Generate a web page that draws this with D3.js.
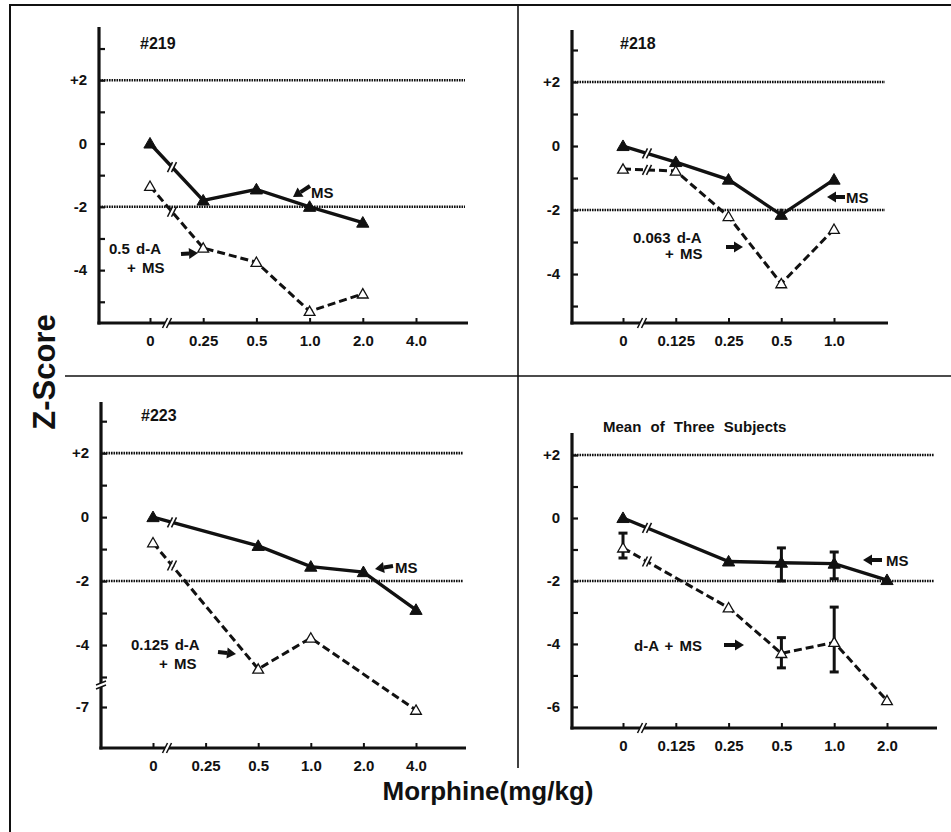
<!DOCTYPE html>
<html>
<head>
<meta charset="utf-8">
<script src="https://cdn.jsdelivr.net/npm/d3@7"></script>
<style>
  body { margin: 0; background: #fff; }
  svg text { font-family: "Liberation Sans", Arial, sans-serif; font-weight: bold; fill: #111; }
</style>
</head>
<body>
<svg id="chart" width="951" height="832"></svg>
<script>
// ---- data ----
const doses219 = ["0", "0.25", "0.5", "1.0", "2.0", "4.0"];
const ms219X = ["0", "0.25", "0.5", "1.0", "2.0"];
const ms219 = [0, -1.8, -1.45, -2.0, -2.5];
const da219X = ["0", "0.25", "0.5", "1.0", "2.0"];
const da219 = [-1.35, -3.3, -3.75, -5.3, -4.75];

const doses218 = ["0", "0.125", "0.25", "0.5", "1.0"];
const ms218X = ["0", "0.125", "0.25", "0.5", "1.0"];
const ms218 = [0, -0.5, -1.05, -2.15, -1.05];
const da218X = ["0", "0.125", "0.25", "0.5", "1.0"];
const da218 = [-0.72, -0.78, -2.2, -4.3, -2.6];

const doses223 = ["0", "0.25", "0.5", "1.0", "2.0", "4.0"];
const ms223X = ["0", "0.5", "1.0", "2.0", "4.0"];
const ms223 = [0, -0.9, -1.55, -1.72, -2.9];
const da223X = ["0", "0.5", "1.0", "4.0"];
const da223 = [-0.8, -4.75, -3.78, -7.1];

const dosesMean = ["0", "0.125", "0.25", "0.5", "1.0", "2.0"];
const msMeanX = ["0", "0.25", "0.5", "1.0", "2.0"];
const msMean = [0, -1.38, -1.42, -1.45, -1.97];
const msMeanErr = [null, null, [-0.95, -2.0], [-1.08, -1.93], null];
const daMeanX = ["0", "0.25", "0.5", "1.0", "2.0"];
const daMean = [-0.95, -2.85, -4.3, -3.95, -5.8];
const daMeanErr = [[-0.48, -1.27], null, [-3.8, -4.76], [-2.83, -4.89], null];

// ---- layout ----
const svg = d3.select("#chart");

const panels = [
  { title: "#219", tx: 140, ty: 49, ax: 99, top: 27, bottom: 323, right: 468, xr: [150, 416],
    yd: [3.68, -5.67], yr: [27, 323], doses: doses219,
    yTicks: [3, 2, 1, 0, -1, -2, -3, -4, -5], yLabels: [2, 0, -2, -4], brk: 167,
    ms: [ms219X, ms219], da: [da219X, da219],
    msNote: { t: [311, 198], a: [310, 186, 293, 197] },
    daNote: { lines: [["0.5 d-A", 109, 254], ["+ MS", 127, 273]], a: [181, 254, 198, 253] } },
  { title: "#218", tx: 620, ty: 49, ax: 572, top: 30, bottom: 323, right: 888, xr: [623, 834],
    yd: [3.625, -5.53], yr: [30, 323], doses: doses218,
    yTicks: [3, 2, 1, 0, -1, -2, -3, -4, -5], yLabels: [2, 0, -2, -4], brk: 642,
    ms: [ms218X, ms218], da: [da218X, da218],
    msNote: { t: [846, 203], a: [845, 197, 827, 197] },
    daNote: { lines: [["0.063 d-A", 633, 243], ["+ MS", 665, 259]], a: [726, 247, 743, 247] } },
  { title: "#223", tx: 141, ty: 421, ax: 101, top: 402, bottom: 748, right: 466, xr: [153, 416],
    yd: [3.6, -5, -7, -8.3], yr: [402, 677, 707, 748], doses: doses223,
    yTicks: [3, 2, 1, 0, -1, -2, -3, -4, -5, -7], yLabels: [2, 0, -2, -4, -7], brk: 167, yBrk: 685,
    ms: [ms223X, ms223], da: [da223X, da223],
    msNote: { t: [395, 573], a: [393, 566, 375, 569] },
    daNote: { lines: [["0.125 d-A", 131, 650], ["+ MS", 159, 669]], a: [218, 652, 236, 654] } },
  { title: "Mean of Three Subjects", tx: 603, ty: 432, ax: 572, top: 433, bottom: 728, right: 937, xr: [623, 887],
    yd: [2.7, -6.67], yr: [433, 728], doses: dosesMean, small: true,
    yTicks: [2, 1, 0, -1, -2, -3, -4, -5, -6], yLabels: [2, 0, -2, -4, -6], brk: 642,
    ms: [msMeanX, msMean, msMeanErr], da: [daMeanX, daMean, daMeanErr],
    msNote: { t: [886, 566], a: [882, 560, 863, 560] },
    daNote: { lines: [["d-A + MS", 634, 651]], a: [724, 645, 744, 645] } }
];

// ---- frame ----
const frame = svg.append("g").attr("stroke", "#111").attr("fill", "none");
frame.append("line").attr("x1", 9).attr("x2", 951).attr("y1", 5).attr("y2", 5).attr("stroke-width", 2);
frame.append("line").attr("x1", 10).attr("x2", 10).attr("y1", 5).attr("y2", 832).attr("stroke-width", 2);
frame.append("line").attr("x1", 65).attr("x2", 951).attr("y1", 376).attr("y2", 376).attr("stroke-width", 1.6);
frame.append("line").attr("x1", 518).attr("x2", 518).attr("y1", 5).attr("y2", 768).attr("stroke-width", 1.6);

svg.append("text").attr("transform", "translate(55,372) rotate(-90)")
  .attr("text-anchor", "middle").style("font-size", "31px").text("Z-Score");
svg.append("text").attr("x", 488).attr("y", 800).attr("text-anchor", "middle")
  .style("font-size", "26px").text("Morphine(mg/kg)");

function arrow(g, [x1, y1, x2, y2]) {
  const ang = Math.atan2(y2 - y1, x2 - x1);
  const hl = 9, hw = 5.5;
  const bx = x2 - hl * Math.cos(ang), by = y2 - hl * Math.sin(ang);
  g.append("line").attr("x1", x1).attr("y1", y1).attr("x2", bx).attr("y2", by)
    .attr("stroke", "#111").attr("stroke-width", 4);
  const px = -Math.sin(ang) * hw, py = Math.cos(ang) * hw;
  g.append("path").attr("d", `M${x2},${y2}L${bx + px},${by + py}L${bx - px},${by - py}Z`).attr("fill", "#111");
}

function slashes(g, x, y, vertical) {
  // little "//" break mark
  const offs = [-2, 2];
  if (!vertical) {
    g.append("line").attr("x1", x - 2).attr("x2", x + 2).attr("y1", y).attr("y2", y)
      .attr("stroke", "#fff").attr("stroke-width", 4);
    offs.forEach(o => g.append("line").attr("x1", x + o - 2.5).attr("x2", x + o + 2.5)
      .attr("y1", y + 5).attr("y2", y - 5).attr("stroke", "#111").attr("stroke-width", 1.5));
  } else {
    g.append("line").attr("x1", x).attr("x2", x).attr("y1", y - 2).attr("y2", y + 2)
      .attr("stroke", "#fff").attr("stroke-width", 5);
    offs.forEach(o => g.append("line").attr("x1", x - 5).attr("x2", x + 5)
      .attr("y1", y + o + 2).attr("y2", y + o - 2).attr("stroke", "#111").attr("stroke-width", 1.5));
  }
}

panels.forEach(p => {
  const g = svg.append("g");
  const x = d3.scalePoint().domain(p.doses).range(p.xr);
  const y = d3.scaleLinear().domain(p.yd).range(p.yr);

  // dotted reference lines at +2 and -2
  g.selectAll(".ref").data([2, -2]).join("line")
    .attr("x1", p.ax).attr("x2", p.right - 3).attr("y1", d => y(d)).attr("y2", d => y(d))
    .attr("stroke", "#111").attr("stroke-width", 2.6).attr("stroke-dasharray", "1.6,0.9");

  // y axis
  const yTickAxis = d3.axisRight(y).tickValues(p.yTicks).tickSize(6).tickFormat("");
  const yt = g.append("g").attr("transform", `translate(${p.ax},0)`).call(yTickAxis);
  yt.select(".domain").remove();
  yt.selectAll("line").attr("stroke", "#111").attr("stroke-width", 2.2);
  const yLab = d3.axisLeft(y).tickValues(p.yLabels).tickSize(0).tickPadding(12)
    .tickFormat(d => d > 0 ? "+" + d : d);
  const yl = g.append("g").attr("transform", `translate(${p.ax},0)`).call(yLab);
  yl.select(".domain").remove();
  yl.selectAll("text").style("font-size", "15px").style("font-family", null);

  // x axis
  const xTickAxis = d3.axisTop(x).tickSize(5).tickFormat("");
  const xt = g.append("g").attr("transform", `translate(0,${p.bottom})`).call(xTickAxis);
  xt.select(".domain").remove();
  xt.selectAll("line").attr("stroke", "#111").attr("stroke-width", 2);
  const xLab = d3.axisBottom(x).tickSize(0).tickPadding(12);
  const xl = g.append("g").attr("transform", `translate(0,${p.bottom})`).call(xLab);
  xl.select(".domain").remove();
  xl.selectAll("text").style("font-size", "15px").style("font-family", null);

  g.append("line").attr("x1", p.ax).attr("x2", p.ax).attr("y1", p.top).attr("y2", p.bottom + 1.5)
    .attr("stroke", "#111").attr("stroke-width", 3.2);
  g.append("line").attr("x1", p.ax - 1.6).attr("x2", p.right).attr("y1", p.bottom).attr("y2", p.bottom)
    .attr("stroke", "#111").attr("stroke-width", 3.2);
  slashes(g, p.brk, p.bottom, false);
  if (p.yBrk) slashes(g, p.ax, p.yBrk, true);

  // title
  g.append("text").attr("x", p.tx).attr("y", p.ty)
    .style("font-size", p.small ? "15px" : "16px")
    .style("word-spacing", p.small ? "5px" : null)
    .text(p.title);

  const line = d3.line().x(d => x(d[0])).y(d => y(d[1]));
  const series = [
    { s: p.da, filled: false, dash: "8,4" },
    { s: p.ms, filled: true, dash: null }
  ];
  series.forEach(ser => {
    const pts = ser.s[0].map((k, i) => [k, ser.s[1][i], ser.s[2] ? ser.s[2][i] : null]);
    g.append("path").datum(pts).attr("d", line).attr("fill", "none")
      .attr("stroke", "#111").attr("stroke-width", ser.filled ? 3.4 : 3)
      .attr("stroke-dasharray", ser.dash);

    // break mark on first segment
    const x0 = x(pts[0][0]), x1 = x(pts[1][0]);
    const bx = p.brk + 5;
    const t = (bx - x0) / (x1 - x0);
    const by = y(pts[0][1]) + t * (y(pts[1][1]) - y(pts[0][1]));
    slashes(g, bx, by, false);

    // error bars
    pts.filter(d => d[2]).forEach(d => {
      const cx = x(d[0]);
      g.append("line").attr("x1", cx).attr("x2", cx).attr("y1", y(d[2][0])).attr("y2", y(d[2][1]))
        .attr("stroke", "#111").attr("stroke-width", 3);
      d[2].forEach(v => g.append("line").attr("x1", cx - 4.5).attr("x2", cx + 4.5)
        .attr("y1", y(v)).attr("y2", y(v)).attr("stroke", "#111").attr("stroke-width", 3));
    });

    g.selectAll(null).data(pts).join("path")
      .attr("transform", d => `translate(${x(d[0])},${y(d[1]) + 1})`)
      .attr("d", d3.symbol(d3.symbolTriangle, ser.filled ? 65 : 50))
      .attr("fill", ser.filled ? "#111" : "#fff")
      .attr("stroke", "#111").attr("stroke-width", ser.filled ? 1 : 1.3);
  });

  // annotations
  g.append("text").attr("x", p.msNote.t[0]).attr("y", p.msNote.t[1]).style("font-size", "15px").text("MS");
  arrow(g, p.msNote.a);
  p.daNote.lines.forEach(([txt, lx, ly]) =>
    g.append("text").attr("x", lx).attr("y", ly).style("font-size", "15px").style("word-spacing", "2px").text(txt));
  arrow(g, p.daNote.a);
});
</script>
</body>
</html>
